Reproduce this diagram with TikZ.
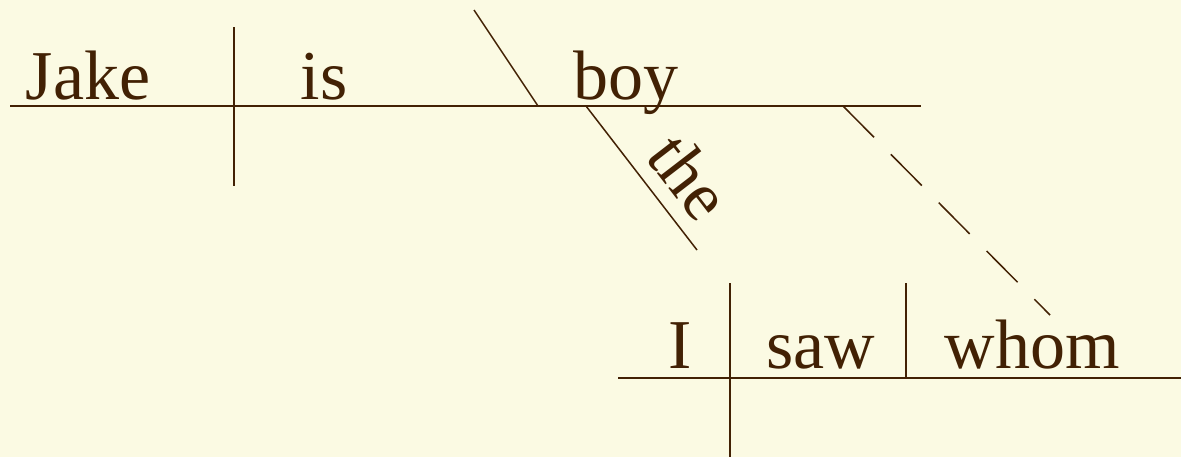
\documentclass[tikz,border=0pt]{standalone}
\usepackage{fontspec}
\setmainfont{Liberation Serif}
\usepackage{xcolor}
\definecolor{parchment}{RGB}{251,250,227}
\definecolor{ink}{RGB}{66,33,4}

\begin{document}
\begin{tikzpicture}[x=0.5pt,y=-0.5pt, word/.style={anchor=base,inner sep=0pt,text=ink,font=\fontsize{35}{40}\selectfont}, baseline/.style={draw=ink,line width=1pt}, divider/.style={draw=ink,line width=0.75pt}]
\fill[parchment] (0,0) rectangle (1181,457);
\useasboundingbox (0,0) rectangle (1181,457);
% main clause
\coordinate (mainL) at (10,106);
\coordinate (mainR) at (921,106);
\coordinate (subjTop) at (234,27);
\coordinate (subjBot) at (234,186);
\coordinate (compTop) at (474,10);
\coordinate (compBot) at (538,106);
\coordinate (artTop) at (586,106);
\coordinate (artBot) at (697,250);
\coordinate (relTop) at (843,106);
\node[word] (jake) at (88,99) {Jake};
\node[word] (is) at (324,99) {is};
\node[word] (boy) at (626,99) {boy};
\node[word,rotate=-52.4] (the) at (671,191) {the};
% relative clause
\coordinate (relL) at (618,378);
\coordinate (relR) at (1181,378);
\coordinate (iTop) at (730,283);
\coordinate (iBot) at (730,457);
\coordinate (vTop) at (906,283);
\coordinate (vBot) at (906,378);
\coordinate (relBot) at (1050,315);
\node[word] (i) at (680,368) {I};
\node[word] (saw) at (821,368) {saw};
\node[word] (whom) at (1032,368) {whom};
\draw[baseline] (mainL) -- (mainR);
\draw[divider] (subjTop) -- (subjBot);
\draw[divider] (compTop) -- (compBot);
\draw[divider] (artTop) -- (artBot);
\draw[baseline] (relL) -- (relR);
\draw[divider] (iTop) -- (iBot);
\draw[divider] (vTop) -- (vBot);
\draw[divider,dash pattern=on 22pt off 12pt] (relTop) -- (relBot);
\end{tikzpicture}
\end{document}
